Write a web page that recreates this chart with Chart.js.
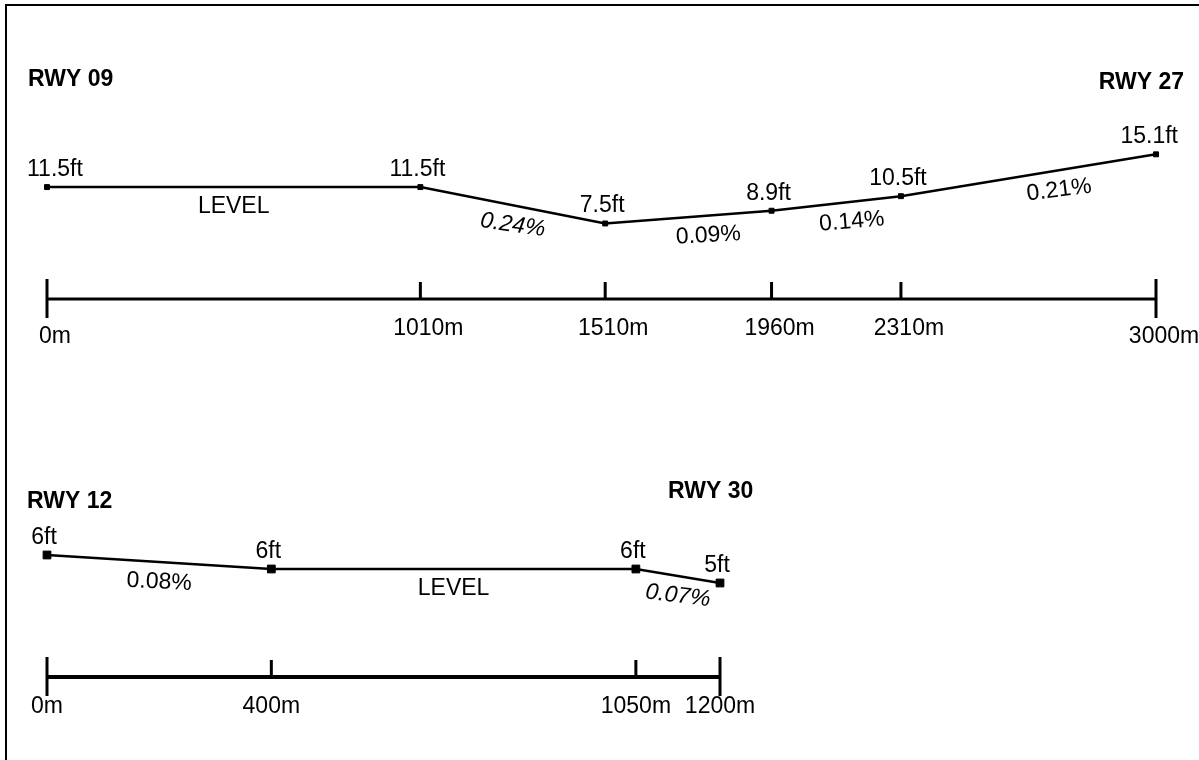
<!DOCTYPE html>
<html>
<head>
<meta charset="utf-8">
<script src="https://cdn.jsdelivr.net/npm/chart.js@4.4.1/dist/chart.umd.min.js"></script>
<style>
html, body { margin: 0; padding: 0; background: #fff; }
body { width: 1199px; height: 760px; position: relative; overflow: hidden; }
#frame { position: absolute; left: 5px; top: 4px; right: 0; bottom: 0;
  border-top: 2px solid #000; border-left: 2px solid #000; }
canvas { position: absolute; left: 0; }
#top { top: 0; }
#bottom { top: 380px; }
</style>
</head>
<body>
<div id="frame"></div>
<canvas id="top" width="1199" height="380"></canvas>
<canvas id="bottom" width="1199" height="380"></canvas>
<script>
// RWY 09 / 27 profile
const dist0927 = [0, 1010, 1510, 1960, 2310, 3000];
const elev0927 = [11.5, 11.5, 7.5, 8.9, 10.5, 15.1];
const elevText0927 = ['11.5ft', '11.5ft', '7.5ft', '8.9ft', '10.5ft', '15.1ft'];
const slope0927 = ['LEVEL', '0.24%', '0.09%', '0.14%', '0.21%'];
const slopeItalic0927 = [false, true, false, false, false];
const ticks0927 = ['0m', '1010m', '1510m', '1960m', '2310m', '3000m'];

// RWY 12 / 30 profile
const dist1230 = [0, 400, 1050, 1200];
const elev1230 = [7, 6, 6, 5];
const elevText1230 = ['6ft', '6ft', '6ft', '5ft'];
const slope1230 = ['0.08%', 'LEVEL', '0.07%'];
const slopeItalic1230 = [false, false, true];
const ticks1230 = ['0m', '400m', '1050m', '1200m'];

const FONT = "'Liberation Sans', Arial, sans-serif";

// draws the labels, the distance ruler and the runway names
const profilePlugin = {
  id: 'profile',
  afterDatasetsDraw(chart, args, opts) {
    const ctx = chart.ctx;
    const xs = chart.scales.x;
    const ys = chart.scales.y;
    const area = chart.chartArea;
    const pts = chart.data.datasets[0].data;
    const px = pts.map(p => xs.getPixelForValue(p.x));
    const py = pts.map(p => ys.getPixelForValue(p.y));

    ctx.save();
    ctx.fillStyle = '#000';
    ctx.strokeStyle = '#000';

    // elevations above the points
    ctx.font = '23px ' + FONT;
    ctx.textAlign = 'left';
    ctx.textBaseline = 'alphabetic';
    opts.elevText.forEach((t, i) => {
      const w = ctx.measureText(t).width;
      let left = px[i] - 3 - w / 2;
      left = Math.max(left, 27);
      left = Math.min(left, 1178 - w);
      ctx.fillText(t, left, py[i] - 11);
    });

    // slopes under each segment
    ctx.textAlign = 'center';
    ctx.textBaseline = 'middle';
    opts.slopes.forEach((t, i) => {
      const dx = px[i + 1] - px[i];
      const dy = py[i + 1] - py[i];
      const f = dy < -1 ? 0.62 : 0.5;
      const cx = px[i] + dx * f;
      const cy = py[i] + dy * f + 20;
      ctx.save();
      ctx.font = (opts.italic[i] ? 'italic ' : '') + '23px ' + FONT;
      ctx.translate(cx, cy);
      ctx.rotate(Math.atan2(dy, dx) * 0.75);
      ctx.fillText(t, 0, 0);
      ctx.restore();
    });

    // distance ruler
    const yr = area.bottom;
    const last = px.length - 1;
    ctx.lineCap = 'butt';
    ctx.lineWidth = opts.rulerWidth;
    ctx.beginPath();
    ctx.moveTo(px[0], yr);
    ctx.lineTo(px[last], yr);
    ctx.stroke();
    ctx.lineWidth = 3;
    px.forEach((x, i) => {
      const end = i === 0 || i === last;
      ctx.beginPath();
      ctx.moveTo(x, yr - (end ? 20 : 17));
      ctx.lineTo(x, yr + (end ? 19 : 0));
      ctx.stroke();
    });
    ctx.font = '23px ' + FONT;
    ctx.textAlign = 'center';
    ctx.textBaseline = 'alphabetic';
    opts.tickText.forEach((t, i) => {
      const end = i === 0 || i === last;
      ctx.fillText(t, px[i] + opts.tickDx, yr + 36 + (end ? opts.endDrop : 0));
    });

    // runway designators
    ctx.font = 'bold 23px ' + FONT;
    opts.names.forEach(n => {
      ctx.textAlign = n.align;
      ctx.fillText(n.text, n.x, n.y);
    });
    ctx.restore();
  }
};

function makeProfile(id, dist, elev, cfg) {
  const data = dist.map((d, i) => ({ x: d, y: elev[i] }));
  return new Chart(document.getElementById(id), {
    type: 'line',
    data: {
      datasets: [{
        data: data,
        borderColor: '#000',
        borderWidth: 2.5,
        backgroundColor: '#000',
        pointStyle: 'rect',
        pointRadius: cfg.pointRadius,
        pointBorderWidth: 1,
        pointBorderColor: '#000',
        pointBackgroundColor: '#000',
        tension: 0,
        fill: false,
        clip: false
      }]
    },
    options: {
      responsive: false,
      animation: false,
      devicePixelRatio: 1,
      layout: { padding: cfg.padding },
      scales: {
        x: { type: 'linear', display: false, min: 0, max: dist[dist.length - 1] },
        y: { type: 'linear', display: false, min: cfg.yMin, max: cfg.yMax }
      },
      plugins: {
        legend: { display: false },
        tooltip: { enabled: false },
        profile: cfg.labels
      }
    },
    plugins: [profilePlugin]
  });
}

makeProfile('top', dist0927, elev0927, {
  pointRadius: 3.5,
  padding: { left: 47, right: 43, top: 99, bottom: 81 },
  yMin: -0.8,
  yMax: 21.18,
  labels: {
    elevText: elevText0927,
    slopes: slope0927,
    italic: slopeItalic0927,
    tickText: ticks0927,
    tickDx: 8,
    endDrop: 8,
    rulerWidth: 3,
    names: [
      { text: 'RWY 09', x: 28, y: 86, align: 'left' },
      { text: 'RWY 27', x: 1184, y: 89, align: 'right' }
    ]
  }
});

makeProfile('bottom', dist1230, elev1230, {
  pointRadius: 5.5,
  padding: { left: 47, right: 479, top: 97, bottom: 83 },
  yMin: -1.714,
  yMax: 12.57,
  labels: {
    elevText: elevText1230,
    slopes: slope1230,
    italic: slopeItalic1230,
    tickText: ticks1230,
    tickDx: 0,
    endDrop: 0,
    rulerWidth: 4,
    names: [
      { text: 'RWY 12', x: 27, y: 128, align: 'left' },
      { text: 'RWY 30', x: 668, y: 118, align: 'left' }
    ]
  }
});
</script>
</body>
</html>
